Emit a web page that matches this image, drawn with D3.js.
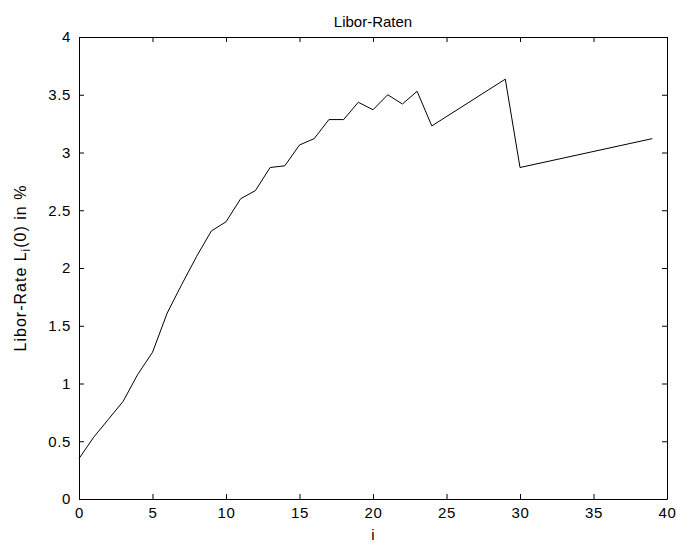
<!DOCTYPE html>
<html>
<head>
<meta charset="utf-8">
<script src="https://cdn.jsdelivr.net/npm/d3@7"></script>
<style>
  html, body { margin: 0; padding: 0; background: #fff; }
  svg { display: block; }
  text { font-family: "Liberation Sans", Arial, sans-serif; fill: #000; }
</style>
</head>
<body>
<svg id="chart" width="677" height="547"></svg>
<script>
// ---- data ----
const indices = [0,1,2,3,4,5,6,7,8,9,10,11,12,13,14,15,16,17,18,19,20,21,22,23,24,29,30,39];
const rates   = [0.35,0.535,0.69,0.845,1.08,1.27,1.61,1.86,2.10,2.32,2.40,2.60,2.67,2.87,2.885,3.065,3.12,3.285,3.285,3.435,3.37,3.50,3.42,3.53,3.23,3.635,2.87,3.12];
const xTicks = [0,5,10,15,20,25,30,35,40];
const yTicks = [0,0.5,1,1.5,2,2.5,3,3.5,4];
const titleText = "Libor-Raten";
const xLabel = "i";

(function () {
const svg = d3.select("#chart");
const mLeft = 79, mRight = 667, mTop = 37, mBottom = 499;

const x = d3.scaleLinear().domain([0, 40]).range([mLeft, mRight]);
const y = d3.scaleLinear().domain([0, 4]).range([mBottom, mTop]);

const fmt = d => String(d);
const fontSize = "15px";

svg.append("rect").attr("x", mLeft).attr("y", mTop)
  .attr("width", mRight - mLeft).attr("height", mBottom - mTop)
  .attr("fill", "#fff");

function style(g) {
  g.select(".domain").attr("stroke", "#000").attr("stroke-width", 1);
  g.selectAll(".tick line").attr("stroke", "#000").attr("stroke-width", 1);
  g.selectAll("text").style("font-size", fontSize).style("letter-spacing", "0.6px").attr("fill", "#000");
}

svg.append("g").attr("transform", `translate(0,${mBottom})`)
  .call(d3.axisBottom(x).tickValues(xTicks).tickFormat(fmt).tickSizeInner(-5).tickSizeOuter(0).tickPadding(8))
  .call(style);
svg.append("g").attr("transform", `translate(0,${mTop})`)
  .call(d3.axisTop(x).tickValues(xTicks).tickFormat("").tickSizeInner(-5).tickSizeOuter(0))
  .call(style);
svg.append("g").attr("transform", `translate(${mLeft},0)`)
  .call(d3.axisLeft(y).tickValues(yTicks).tickFormat(fmt).tickSizeInner(-5).tickSizeOuter(0).tickPadding(8))
  .call(style);
svg.append("g").attr("transform", `translate(${mRight},0)`)
  .call(d3.axisRight(y).tickValues(yTicks).tickFormat("").tickSizeInner(-5).tickSizeOuter(0))
  .call(style);

const pts = indices.map((d, k) => [d, rates[k]]);
svg.append("path").datum(pts)
  .attr("fill", "none").attr("stroke", "#000").attr("stroke-width", 1)
  .attr("d", d3.line().x(d => x(d[0])).y(d => y(d[1])));

svg.append("text").attr("x", (mLeft + mRight) / 2).attr("y", 27)
  .attr("text-anchor", "middle").style("font-size", fontSize).text(titleText);

svg.append("text").attr("x", (mLeft + mRight) / 2).attr("y", 540)
  .attr("text-anchor", "middle").style("font-size", fontSize).text(xLabel);

const yl = svg.append("text")
  .attr("transform", `translate(26,${(mTop + mBottom) / 2}) rotate(-90)`)
  .attr("text-anchor", "middle").style("font-size", "16px").style("letter-spacing", "1px");
yl.append("tspan").text("Libor-Rate L");
yl.append("tspan").attr("dy", "4").style("font-size", "12px").text("i");
yl.append("tspan").attr("dy", "-4").text("(0) in %");
})();
</script>
</body>
</html>
